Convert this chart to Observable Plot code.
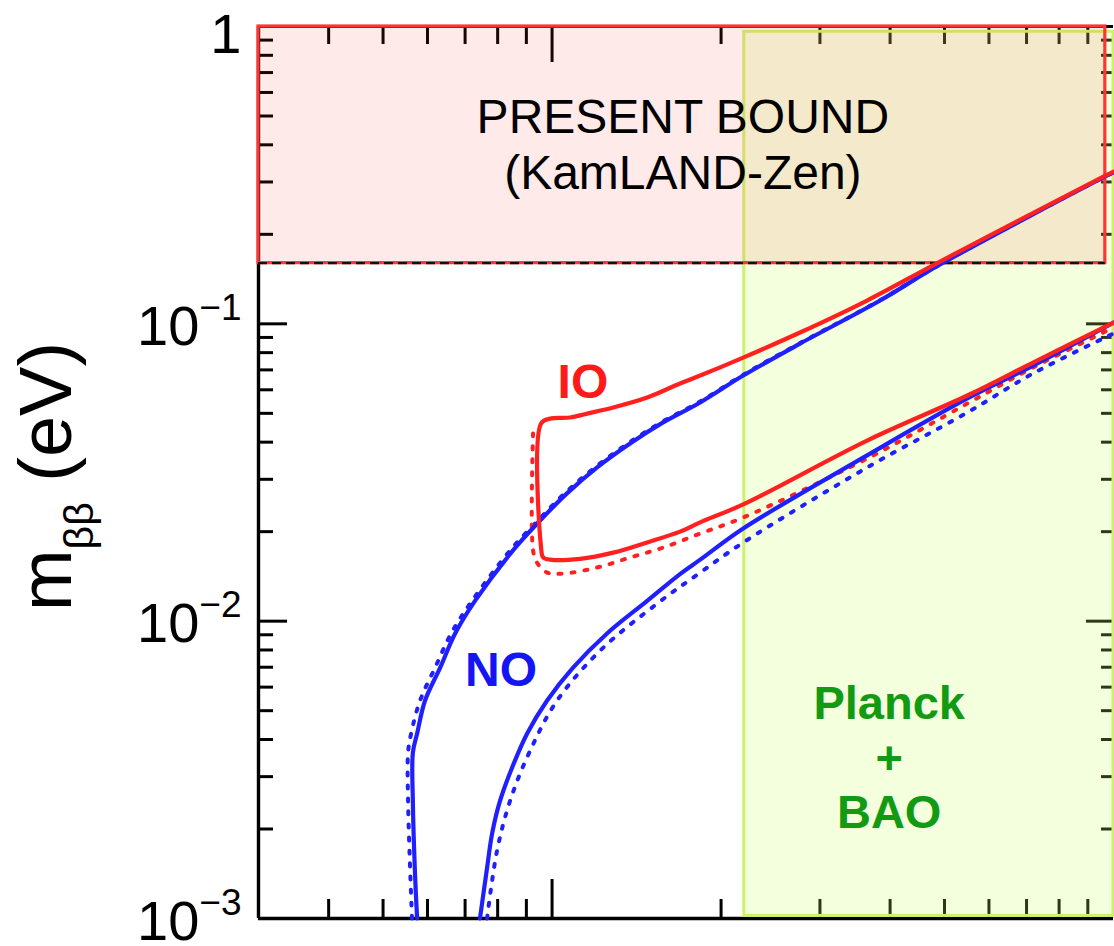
<!DOCTYPE html>
<html>
<head>
<meta charset="utf-8">
<script src="https://cdn.jsdelivr.net/npm/d3@7"></script>
<script src="https://cdn.jsdelivr.net/npm/@observablehq/plot@0.6"></script>
<style>
  body { margin: 0; background: #fff; }
</style>
</head>
<body>
<div id="chart"></div>
<script>
// Effective Majorana mass m_bb versus the sum of neutrino masses (both in eV).

// ---- Inverted ordering (IO), solid contour: upper branch right-to-left, then lower branch
const ioSolidSum = [1.0, 0.967, 0.491, 0.364, 0.2765, 0.219, 0.1836, 0.169, 0.1477, 0.1285, 0.1155, 0.1077, 0.0992, 0.0956,
                    0.0956, 0.0964, 0.0992, 0.1122, 0.1285, 0.1477, 0.169, 0.1836, 0.219, 0.364, 0.549, 0.719, 1.0];
const ioSolidMbb = [0.325, 0.315, 0.162, 0.1198, 0.0935, 0.077, 0.067, 0.063, 0.0565, 0.0523, 0.0499, 0.0484, 0.048, 0.0462,
                    0.0177, 0.0164, 0.0161, 0.0162, 0.0170, 0.0184, 0.0200, 0.0215, 0.0247, 0.0405, 0.0574, 0.0741, 0.101];

// ---- Inverted ordering, dotted contour (vertical edge and lower branch)
const ioDotSum = [0.0925, 0.0925, 0.0940, 0.0980, 0.1046, 0.1203, 0.1377, 0.1577, 0.1836, 0.219, 0.364, 0.549, 0.719, 1.0];
const ioDotMbb = [0.0428, 0.0173, 0.01574, 0.01457, 0.01446, 0.01515, 0.01637, 0.01768, 0.01971, 0.02232, 0.03523, 0.05394, 0.07129, 0.0972];

// ---- Normal ordering (NO), solid upper branch
const noUpSum = [0.0575, 0.0570, 0.0565, 0.0565, 0.0575, 0.0594, 0.0632, 0.0672, 0.0729, 0.0852, 0.0952, 0.1063, 0.1203,
                 0.1377, 0.1577, 0.1836, 0.219, 0.2765, 0.384, 0.491, 0.967, 1.0];
const noUpMbb = [0.00100, 0.00142, 0.00249, 0.00361, 0.00419, 0.00541, 0.00698, 0.00909, 0.0117, 0.0173, 0.0218, 0.0269, 0.0329,
                 0.0396, 0.0466, 0.0544, 0.0670, 0.0858, 0.1198, 0.1583, 0.313, 0.3228];

// ---- Normal ordering, dotted upper branch
const noUpDotSum = [0.0563, 0.0558, 0.0554, 0.0554, 0.0561, 0.0582, 0.0619, 0.0661, 0.0720, 0.0842, 0.0944, 0.1055, 0.1195,
                    0.1370, 0.1570, 0.1830, 0.2185, 0.276, 0.384, 0.491, 0.967, 1.0];
const noUpDotMbb = [0.00100, 0.00157, 0.00249, 0.00361, 0.00419, 0.00541, 0.00698, 0.00909, 0.0117, 0.0173, 0.0218, 0.0270, 0.0330,
                    0.0398, 0.0468, 0.0546, 0.0672, 0.0860, 0.1200, 0.1585, 0.3135, 0.323];

// ---- Normal ordering, solid lower branch
const noLowSum = [0.0744, 0.0766, 0.0782, 0.0808, 0.0849, 0.0903, 0.0980, 0.1090, 0.1253, 0.1477, 0.169, 0.1836, 0.219, 0.364, 0.549, 0.719, 1.0];
const noLowMbb = [0.00100, 0.00148, 0.00193, 0.00249, 0.00322, 0.00419, 0.00541, 0.00698, 0.00909, 0.0117, 0.0144, 0.0161, 0.0205, 0.0361, 0.0561, 0.0724, 0.101];

// ---- Normal ordering, dotted lower branch
const noLowDotSum = [0.0766, 0.0798, 0.0842, 0.0914, 0.1021, 0.1218, 0.1539, 0.1836, 0.219, 0.364, 0.549, 0.719, 1.0];
const noLowDotMbb = [0.00100, 0.00169, 0.00249, 0.00367, 0.00541, 0.00796, 0.01146, 0.01457, 0.01838, 0.03286, 0.0503, 0.0681, 0.0928];

// ---- Excluded regions
const kamlandBox = {x1: 0.03, x2: 0.967, y1: 0.16, y2: 1.0};      // present bound on m_bb
const planckBox  = {x1: 0.22, x2: 1.0, y1: 0.00102, y2: 0.96};    // cosmological bound on the mass sum

// ---- Region and ordering labels
const boundLines = ["PRESENT BOUND", "(KamLAND-Zen)"];
const boundLineY = [0.437, 0.285];
const boundLabelX = 0.171;
const planckLines = ["Planck", "+", "BAO"];
const planckLineY = [0.00467, 0.00307, 0.00202];
const planckLabelX = 0.3985;
const orderingLabels = [
  {text: "IO", x: 0.1135, y: 0.0565, color: "#ff1a1a"},
  {text: "NO", x: 0.0811, y: 0.00607, color: "#1414f5"}
];

// ---- Axis ticks
const yTickValues = [1, 0.1, 0.01, 0.001];
const yTickLabels = ["1", "10^\u22121", "10^\u22122", "10^\u22123"];
const yMinor = [-3, -2, -1].flatMap(k => [2, 3, 4, 5, 6, 7, 8, 9].map(m => m * 10 ** k));
const xMajor = [0.1];
const xMinor = [0.04, 0.05, 0.06, 0.07, 0.08, 0.09, 0.2, 0.3, 0.4, 0.5, 0.6, 0.7, 0.8, 0.9];

const FONT = "'Liberation Sans', Arial, Helvetica, sans-serif";
const W = 1114, H = 946;
const M = {top: 26, right: 1, bottom: 28, left: 258};
const innerW = W - M.left - M.right;
const innerH = H - M.top - M.bottom;

const pts = (sum, mbb) => sum.map((s, i) => ({sum: s, mbb: mbb[i]}));
const yTicks = yTickValues.map((v, i) => ({v, label: yTickLabels[i]}));

const RED = "#ff2020", BLUE = "#2020ff", GREEN = "#139a13";
const solid = {x: "sum", y: "mbb", strokeWidth: 4.2, strokeLinejoin: "round", curve: "catmull-rom"};
const dotted = {x: "sum", y: "mbb", strokeWidth: 4, strokeDasharray: "3,10", curve: "catmull-rom"};
const tickLabel = {y: "v", text: "label", frameAnchor: "left", textAnchor: "end", lineAnchor: "bottom",
                   dx: -17, fontSize: 56, fill: "#000"};

const chart = Plot.plot({
  width: W,
  height: H,
  marginTop: M.top,
  marginRight: M.right,
  marginBottom: M.bottom,
  marginLeft: M.left,
  x: {type: "log", domain: [0.03, 1], axis: null},
  y: {type: "log", domain: [0.001, 1], axis: null},
  style: {fontFamily: FONT, background: "#fff", overflow: "visible"},
  marks: [
    // frame lines
    Plot.ruleX([0.03], {stroke: "#000", strokeWidth: 3.4}),
    Plot.ruleY([0.001], {stroke: "#000", strokeWidth: 3.4}),
    Plot.ruleY([1], {stroke: "#000", strokeWidth: 3}),

    // inward ticks: bottom, top, left, right
    Plot.tickX(xMinor, {x: d => d, insetTop: innerH - 19, stroke: "#000", strokeWidth: 3}),
    Plot.tickX(xMajor, {x: d => d, insetTop: innerH - 39, stroke: "#000", strokeWidth: 3}),
    Plot.tickX(xMinor, {x: d => d, insetBottom: innerH - 18, stroke: "#000", strokeWidth: 3}),
    Plot.tickX(xMajor, {x: d => d, insetBottom: innerH - 36, stroke: "#000", strokeWidth: 3}),
    Plot.tickY(yMinor, {y: d => d, insetRight: innerW - 15, stroke: "#000", strokeWidth: 3}),
    Plot.tickY(yTickValues, {y: d => d, insetRight: innerW - 29, stroke: "#000", strokeWidth: 3}),
    Plot.tickY(yMinor, {y: d => d, insetLeft: innerW - 12, stroke: "#000", strokeWidth: 3}),
    Plot.tickY(yTickValues, {y: d => d, insetLeft: innerW - 27, stroke: "#000", strokeWidth: 3}),

    // excluded regions
    Plot.rect([planckBox], {x1: "x1", x2: "x2", y1: "y1", y2: "y2",
      fill: "#c8ff64", fillOpacity: 0.22, stroke: "#cdf26a", strokeWidth: 3}),
    Plot.rect([kamlandBox], {x1: "x1", x2: "x2", y1: "y1", y2: "y2",
      fill: "#ff3030", fillOpacity: 0.1, stroke: "#ff3535", strokeWidth: 3.2}),
    Plot.ruleY([kamlandBox.y1], {x1: kamlandBox.x1, x2: kamlandBox.x2, stroke: "#111", strokeWidth: 2.4, strokeDasharray: "9,5"}),

    // allowed bands
    Plot.line(pts(noUpDotSum, noUpDotMbb), {...dotted, stroke: BLUE}),
    Plot.line(pts(noLowDotSum, noLowDotMbb), {...dotted, stroke: BLUE}),
    Plot.line(pts(ioDotSum, ioDotMbb), {...dotted, stroke: RED}),
    Plot.line(pts(noUpSum, noUpMbb), {...solid, stroke: BLUE}),
    Plot.line(pts(noLowSum, noLowMbb), {...solid, stroke: BLUE}),
    Plot.line(pts(ioSolidSum, ioSolidMbb), {...solid, stroke: RED}),

    // labels
    Plot.text(boundLines, {x: () => boundLabelX, y: (d, i) => boundLineY[i], text: d => d,
      fontSize: 48, fill: "#000", lineAnchor: "bottom"}),
    Plot.text(planckLines, {x: () => planckLabelX, y: (d, i) => planckLineY[i], text: d => d,
      fontSize: 47, fontWeight: "bold", fill: GREEN, lineAnchor: "bottom"}),
    Plot.text(orderingLabels, {x: "x", y: "y", text: "text", fill: "color",
      fontSize: 48, fontWeight: "bold", lineAnchor: "bottom"}),

    // y tick labels (exponents set as superscripts below)
    Plot.text(yTicks.slice(0, 1), {...tickLabel, dy: 26}),
    Plot.text(yTicks.slice(1), {...tickLabel, dy: 21}),

    // y axis title
    Plot.text(["m_\u03b2\u03b2 (eV)"], {frameAnchor: "left", rotate: -90, dx: -188, dy: 4,
      textAnchor: "middle", lineAnchor: "bottom", fontSize: 74, fill: "#000"})
  ]
});

// typeset exponents and the subscript as tspans
d3.select(chart).selectAll("text").each(function () {
  const s = this.textContent;
  const sel = d3.select(this);
  let m = s.match(/^10\^(.+)$/);
  if (m) {
    sel.text(null);
    sel.append("tspan").text("10");
    sel.append("tspan").attr("font-size", 37).attr("dy", -25).text(m[1]);
    return;
  }
  m = s.match(/^m_(\S+)(.*)$/);
  if (m) {
    sel.text(null);
    sel.append("tspan").text("m");
    sel.append("tspan").attr("font-size", 41).attr("dy", 22).text(m[1]);
    sel.append("tspan").attr("dy", -22).text(m[2]);
  }
});

document.getElementById("chart").appendChild(chart);
</script>
</body>
</html>
